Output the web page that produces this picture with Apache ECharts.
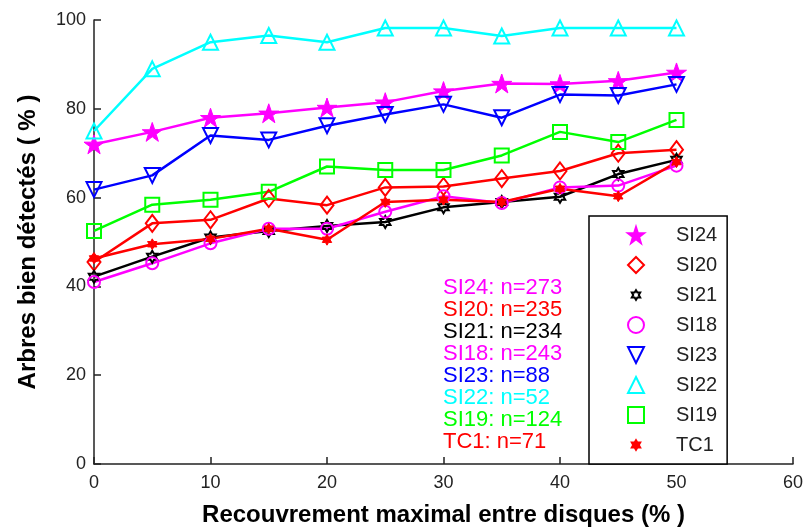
<!DOCTYPE html>
<html><head><meta charset="utf-8">
<script src="https://cdn.jsdelivr.net/npm/echarts@6/dist/echarts.min.js"></script>
<style>html,body{margin:0;padding:0;background:#fff}#c{width:807px;height:532px}</style>
</head><body><div id="c"></div>
<script>
// ---- data ----
const overlap = [0, 5, 10, 15, 20, 25, 30, 35, 40, 45, 50];
const seriesNames = ['SI24', 'SI20', 'SI21', 'SI18', 'SI23', 'SI22', 'SI19', 'TC1'];
const sampleSizes = [273, 235, 234, 243, 88, 52, 124, 71];
const si24 = [72, 74.8, 78, 79, 80.3, 81.5, 84, 85.7, 85.6, 86.3, 88.2];
const si20 = [45.5, 54.2, 55, 59.8, 58.3, 62.3, 62.5, 64.3, 66, 70, 70.8];
const si21 = [42.2, 46.7, 51, 52.5, 53.6, 54.5, 57.8, 59, 60.2, 65.3, 68.5];
const si18 = [41, 45.2, 49.7, 53, 53, 56.8, 60.3, 58.8, 62.3, 62.7, 67.2];
const si23 = [61.8, 65, 74, 73, 76.2, 78.7, 81, 78, 83.2, 83, 85.5];
const si22 = [75, 89, 95, 96.5, 95, 98.2, 98.2, 96.4, 98.2, 98.2, 98.2];
const si19 = [52.5, 58.4, 59.5, 61.3, 67, 66.2, 66.2, 69.5, 74.8, 72.5, 77.5];
const tc1  = [46.3, 49.5, 50.7, 53, 50.5, 59, 59.5, 59, 62, 60.3, 68];
const xTitle = 'Recouvrement maximal entre disques (% )';
const yTitle = 'Arbres bien détectés ( % )';

// ---- styles ----
const FONT = "'Liberation Sans', Arial, sans-serif";
const star5 = 'path://M50,0 L61.8,35.1 L98.1,35.1 L68.8,56.8 L79.4,90.9 L50,69.1 L20.6,90.9 L31.2,56.8 L1.9,35.1 L38.2,35.1 Z';
// six-point star drawn at 60% inside a padded 100x100 box
const star6 = 'path://M0,0 M100,100 M50,20 L58.64,35 L75.98,35 L67.34,50 L75.98,65 L58.64,65 L50,80 L41.36,65 L24.02,65 L32.66,50 L24.02,35 L41.36,35 Z';
const styleMap = {
  SI24: {color: '#ff00ff', symbol: star5, size: 20, filled: true, rotate: 0},
  SI20: {color: '#ff0000', symbol: 'diamond', size: [13, 17], filled: false, rotate: 0},
  SI21: {color: '#000000', symbol: star6, size: 20, filled: false, rotate: 0},
  SI18: {color: '#ff00ff', symbol: 'circle', size: 12, filled: false, rotate: 0},
  SI23: {color: '#0000ff', symbol: 'triangle', size: 15, filled: false, rotate: 180},
  SI22: {color: '#00ffff', symbol: 'triangle', size: 15, filled: false, rotate: 0},
  SI19: {color: '#00ff00', symbol: 'rect', size: 14, filled: false, rotate: 0},
  TC1:  {color: '#ff0000', symbol: star6, size: 18, filled: true, rotate: 0}
};
const valuesByName = {SI24: si24, SI20: si20, SI21: si21, SI18: si18, SI23: si23, SI22: si22, SI19: si19, TC1: tc1};

const series = seriesNames.map(name => {
  const s = styleMap[name];
  return {
    name: name,
    type: 'line',
    data: overlap.map((x, i) => [x, valuesByName[name][i]]),
    symbol: s.symbol,
    symbolSize: s.size,
    symbolRotate: s.rotate,
    symbolKeepAspect: true,
    showAllSymbol: true,
    lineStyle: {color: s.color, width: 2.5},
    itemStyle: s.filled
      ? {color: s.color, borderColor: s.color, borderWidth: 1}
      : {color: 'rgba(255,255,255,0)', borderColor: s.color, borderWidth: 2},
    emphasis: {disabled: true},
    z: 2
  };
});

const annotations = seriesNames.map((name, i) => ({
  type: 'text',
  left: 443,
  top: 277 + 22 * i,
  z: 10,
  style: {
    text: name + ': n=' + sampleSizes[i],
    fill: styleMap[name].color,
    font: '22px ' + FONT
  }
}));

const chart = echarts.init(document.getElementById('c'), null, {renderer: 'canvas'});
chart.setOption({
  animation: false,
  backgroundColor: '#ffffff',
  textStyle: {fontFamily: FONT},
  grid: {left: 94, right: 14, top: 20, bottom: 68, containLabel: false},
  xAxis: {
    type: 'value', min: 0, max: 60, interval: 10,
    name: xTitle, nameLocation: 'middle', nameGap: 39,
    nameTextStyle: {fontSize: 24, fontWeight: 'bold', color: '#000', fontFamily: FONT},
    axisLine: {show: true, lineStyle: {color: '#222', width: 1.5}},
    axisTick: {show: true, inside: true, length: 7, lineStyle: {color: '#222', width: 1.5}},
    axisLabel: {fontSize: 18, color: '#222', margin: 10, fontFamily: FONT},
    splitLine: {show: false}
  },
  yAxis: {
    type: 'value', min: 0, max: 100, interval: 20,
    name: yTitle, nameLocation: 'middle', nameGap: 54, nameRotate: 90,
    nameTextStyle: {fontSize: 24, fontWeight: 'bold', color: '#000', fontFamily: FONT},
    axisLine: {show: true, lineStyle: {color: '#222', width: 1.5}},
    axisTick: {show: true, inside: true, length: 7, lineStyle: {color: '#222', width: 1.5}},
    axisLabel: {fontSize: 18, color: '#222', margin: 8, fontFamily: FONT},
    splitLine: {show: false}
  },
  legend: {
    orient: 'vertical',
    left: 589, top: 216,
    padding: [9, 10, 9, 11],
    backgroundColor: '#ffffff',
    borderColor: '#000000',
    borderWidth: 1.5,
    borderRadius: 0,
    itemWidth: 70,
    itemHeight: 20,
    itemGap: 10,
    selectedMode: false,
    data: seriesNames,
    lineStyle: {opacity: 0},
    textStyle: {fontSize: 20, color: '#222', fontFamily: FONT, lineHeight: 20},
    z: 5
  },
  graphic: annotations,
  series: series
});
</script>
</body></html>
